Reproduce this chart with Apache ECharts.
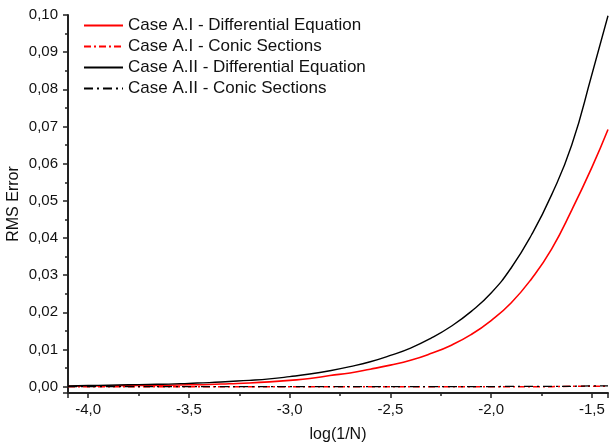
<!DOCTYPE html>
<html>
<head>
<meta charset="utf-8">
<script src="https://cdn.jsdelivr.net/npm/echarts@6/dist/echarts.min.js"></script>
<style>
  html, body { margin: 0; padding: 0; background: #fff; }
  #chart { width: 609px; height: 444px; }
</style>
</head>
<body>
<div id="chart"></div>
<script>
// log(1/N) sample points
const logN = [-4.1, -4.0, -3.9, -3.8, -3.7, -3.6, -3.5, -3.4, -3.3, -3.2, -3.1, -3.0, -2.9, -2.8,
  -2.7, -2.6, -2.5, -2.4, -2.3, -2.2, -2.1, -2.0, -1.9, -1.8, -1.7, -1.6, -1.5, -1.42]

const caseA1Diff = [0.0001, 0.0002, 0.0002, 0.0003, 0.0003, 0.0004, 0.0005, 0.0006, 0.0008, 0.0010,
  0.0013, 0.0017, 0.0022, 0.0030, 0.0037, 0.0047, 0.0058, 0.0071, 0.0089, 0.0111, 0.0140,
  0.0178, 0.0226, 0.0290, 0.0370, 0.0475, 0.0590, 0.0692]
const caseA1Conic = [0.0000, 0.0000, 0.0000, 0.0000, 0.0000, 0.0000, 0.0000, 0.0000, 0.0000, 0.0000,
  0.0000, 0.0000, 0.0000, 0.0000, 0.0000, 0.0000, 0.0000, 0.0000, 0.0000, 0.0000, 0.0000,
  0.0000, 0.0000, 0.0000, 0.0000, 0.0001, 0.0001, 0.0001]
const caseA2Diff = [0.0002, 0.0003, 0.0004, 0.0005, 0.0006, 0.0007, 0.0009, 0.0011, 0.0014, 0.0017,
  0.0021, 0.0027, 0.0034, 0.0043, 0.0054, 0.0067, 0.0084, 0.0104, 0.0130, 0.0162, 0.0202,
  0.0252, 0.0320, 0.0408, 0.0516, 0.0650, 0.0840, 0.0998]
const caseA2Conic = [0.0000, 0.0000, 0.0000, 0.0000, 0.0000, 0.0000, 0.0000, 0.0000, 0.0000, 0.0000,
  0.0000, 0.0000, 0.0000, 0.0000, 0.0000, 0.0000, 0.0000, 0.0000, 0.0000, 0.0000, 0.0000,
  0.0000, 0.0001, 0.0001, 0.0001, 0.0001, 0.0002, 0.0002]

const seriesNames = [
  'Case A.I - Differential Equation',
  'Case A.I - Conic Sections',
  'Case A.II - Differential Equation',
  'Case A.II - Conic Sections'
]

const FONT = 'Arial, "Liberation Sans", sans-serif'
const pair = arr => logN.map((x, i) => [x, arr[i]])

const chart = echarts.init(document.getElementById('chart'))

const axisCommon = {
  axisLine: { show: true, onZero: false, lineStyle: { color: '#222', width: 2 } },
  axisTick: { show: true, inside: false, length: 5, lineStyle: { color: '#222', width: 1.5 } },
  minorTick: { show: true, splitNumber: 2, length: 3, lineStyle: { color: '#222', width: 1.5 } },
  splitLine: { show: false },
  nameMoveOverlap: false,
  nameTextStyle: { fontFamily: FONT, fontSize: 16, color: '#111' }
}

const option = {
  backgroundColor: '#fff',
  animation: false,
  grid: { left: 68, right: 1, top: 15, bottom: 51, outerBoundsMode: 'none', containLabel: false },
  legend: {
    orient: 'vertical',
    left: 78,
    top: 12,
    itemWidth: 39,
    itemHeight: 10,
    itemGap: 4,
    itemStyle: { opacity: 0 },
    textStyle: { fontFamily: FONT, fontSize: 17, color: '#111', lineHeight: 17 },
    data: seriesNames
  },
  xAxis: {
    type: 'value',
    min: -4.1,
    max: -1.42,
    splitNumber: 5,
    name: 'log(1/N)',
    nameLocation: 'middle',
    nameGap: 34,
    ...axisCommon,
    axisLabel: {
      fontFamily: FONT, fontSize: 15, color: '#111', margin: 9,
      showMinLabel: false, showMaxLabel: false,
      formatter: v => (Math.abs(v * 2 - Math.round(v * 2)) < 1e-6) ? v.toFixed(1).replace('.', ',') : ''
    }
  },
  yAxis: {
    type: 'value',
    min: -0.0017,
    max: 0.10,
    splitNumber: 10,
    name: 'RMS Error',
    nameLocation: 'middle',
    nameGap: 46,
    ...axisCommon,
    axisLabel: {
      fontFamily: FONT, fontSize: 15, color: '#111', margin: 10,
      showMinLabel: false,
      formatter: v => v < -1e-9 ? '' : v.toFixed(2).replace('.', ',')
    }
  },
  series: [
    {
      name: seriesNames[0], type: 'line', data: pair(caseA1Diff),
      symbol: 'none', smooth: 0.5,
      lineStyle: { color: '#ff0000', width: 1.6 }, itemStyle: { color: '#ff0000' }
    },
    {
      name: seriesNames[1], type: 'line', data: pair(caseA1Conic),
      symbol: 'none',
      lineStyle: { color: '#ff0000', width: 1.5, type: [7, 3, 2, 3] }, itemStyle: { color: '#ff0000' }
    },
    {
      name: seriesNames[2], type: 'line', data: pair(caseA2Diff),
      symbol: 'none', smooth: 0.5,
      lineStyle: { color: '#000', width: 1.4 }, itemStyle: { color: '#000' }
    },
    {
      name: seriesNames[3], type: 'line', data: pair(caseA2Conic),
      symbol: 'none',
      lineStyle: { color: '#000', width: 1.3, type: [9, 4, 2, 4] }, itemStyle: { color: '#000' }
    }
  ]
}

chart.setOption(option)
</script>
</body>
</html>
